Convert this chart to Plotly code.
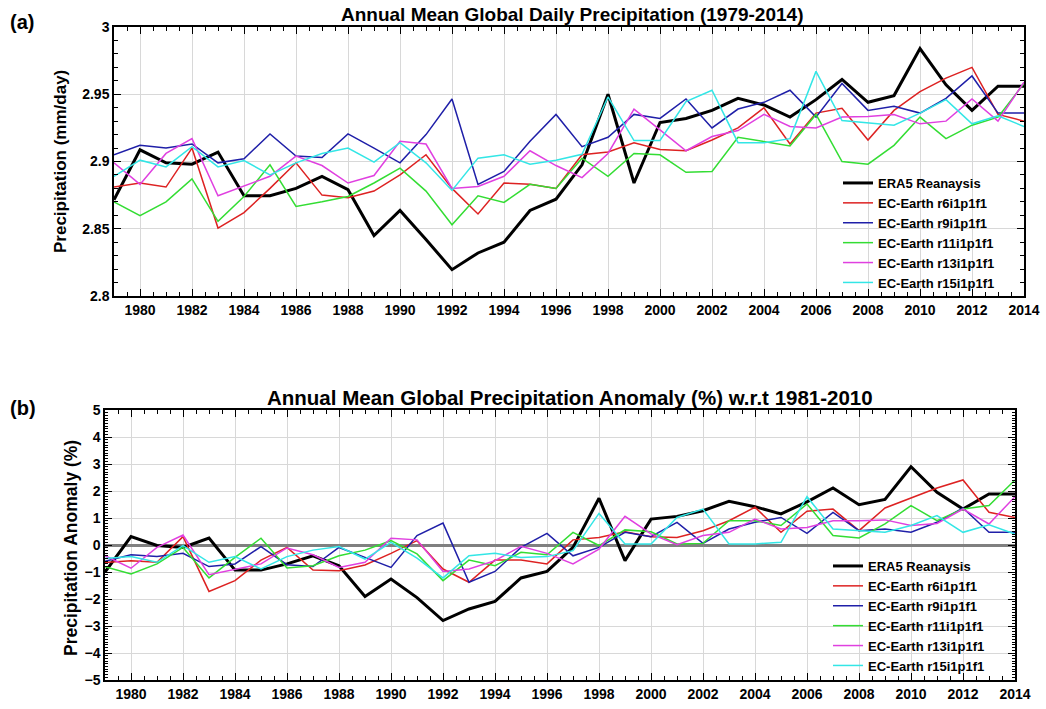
import plotly.graph_objects as go

years = list(range(1979, 2015))

# Panel (a): annual mean global daily precipitation (mm/day)
era5_a = [2.8715, 2.9087, 2.899, 2.898, 2.907, 2.8745, 2.8745, 2.880, 2.889, 2.879, 2.845, 2.8636,
          2.842, 2.8196, 2.832, 2.840, 2.8636, 2.872, 2.8975, 2.950, 2.884, 2.929, 2.932, 2.938,
          2.947, 2.942, 2.933, 2.946, 2.961, 2.944, 2.949, 2.984, 2.957, 2.938, 2.956, 2.956]
r6_a = [2.881, 2.884, 2.881, 2.910, 2.8505, 2.862, 2.880, 2.899, 2.875, 2.873, 2.878, 2.890,
        2.905, 2.880, 2.861, 2.884, 2.883, 2.880, 2.905, 2.907, 2.914, 2.909, 2.908, 2.916,
        2.925, 2.940, 2.913, 2.936, 2.9396, 2.916, 2.938, 2.952, 2.962, 2.970, 2.935, 2.930]
r9_a = [2.905, 2.912, 2.910, 2.913, 2.899, 2.902, 2.9205, 2.904, 2.903, 2.9205, 2.910, 2.899,
        2.920, 2.9465, 2.883, 2.8926, 2.915, 2.935, 2.911, 2.918, 2.935, 2.932, 2.9465, 2.925,
        2.939, 2.944, 2.953, 2.933, 2.958, 2.938, 2.941, 2.936, 2.947, 2.9636, 2.936, 2.936]
r11_a = [2.870, 2.8597, 2.870, 2.887, 2.8555, 2.874, 2.8975, 2.8666, 2.870, 2.874, 2.884, 2.895,
         2.878, 2.853, 2.8745, 2.8696, 2.883, 2.880, 2.9025, 2.889, 2.906, 2.905, 2.892, 2.8926,
         2.918, 2.915, 2.9116, 2.935, 2.900, 2.898, 2.912, 2.933, 2.917, 2.927, 2.933, 2.958]
r13_a = [2.899, 2.883, 2.906, 2.917, 2.8745, 2.882, 2.889, 2.904, 2.897, 2.884, 2.8896, 2.915,
         2.913, 2.880, 2.8814, 2.889, 2.908, 2.897, 2.888, 2.906, 2.939, 2.9235, 2.908, 2.9186,
         2.923, 2.935, 2.926, 2.925, 2.933, 2.9334, 2.935, 2.928, 2.930, 2.9465, 2.930, 2.959]
r15_a = [2.889, 2.901, 2.896, 2.911, 2.896, 2.9007, 2.890, 2.899, 2.906, 2.910, 2.8995, 2.914,
         2.899, 2.8785, 2.9025, 2.905, 2.898, 2.901, 2.9054, 2.948, 2.9156, 2.9156, 2.9445, 2.953,
         2.914, 2.914, 2.917, 2.967, 2.9305, 2.929, 2.927, 2.936, 2.946, 2.928, 2.934, 2.926]

# Panel (b): precipitation anomaly (%) w.r.t. 1981-2010
era5_b = [-1.0, 0.31, -0.02, -0.09, 0.26, -0.93, -0.93, -0.70, -0.40, -0.77, -1.91, -1.26,
          -1.95, -2.80, -2.37, -2.09, -1.22, -0.98, -0.09, 1.73, -0.58, 0.96, 1.06, 1.27,
          1.62, 1.42, 1.15, 1.60, 2.11, 1.49, 1.69, 2.90, 1.95, 1.33, 1.89, 1.89]
r6_b = [-0.65, -0.58, -0.64, 0.31, -1.72, -1.32, -0.56, -0.09, -0.93, -0.95, -0.74, -0.31,
        0.16, -0.89, -1.38, -0.56, -0.56, -0.70, 0.19, 0.28, 0.49, 0.31, 0.28, 0.53,
        0.90, 1.40, 0.47, 1.25, 1.33, 0.53, 1.37, 1.74, 2.11, 2.41, 1.21, 1.02]
r9_b = [-0.6, -0.36, -0.43, -0.31, -0.80, -0.70, -0.06, -0.73, -0.80, -0.09, -0.46, -0.83,
        0.35, 0.81, -1.38, -0.98, -0.09, 0.43, -0.40, -0.09, 0.47, 0.31, 0.84, 0.06,
        0.59, 0.84, 1.02, 0.43, 1.21, 0.53, 0.59, 0.47, 0.84, 1.37, 0.47, 0.47]
r11_b = [-0.8, -1.07, -0.70, -0.09, -1.22, -0.46, 0.25, -0.85, -0.77, -0.40, -0.19, 0.16,
         -0.33, -1.32, -0.56, -0.77, -0.27, -0.36, 0.47, -0.02, 0.56, 0.49, 0.04, 0.06,
         0.90, 0.90, 0.72, 1.52, 0.35, 0.26, 0.78, 1.46, 0.90, 1.33, 1.46, 2.41]
r13_b = [-0.4, -0.86, -0.09, 0.37, -1.10, -0.89, -0.70, -0.11, -0.36, -0.83, -0.64, 0.25,
         0.19, -0.98, -0.89, -0.58, -0.05, -0.31, -0.70, -0.15, 1.06, 0.41, 0.01, 0.35,
         0.47, 0.96, 0.59, 0.65, 0.90, 0.90, 0.93, 0.72, 0.80, 1.33, 0.78, 1.79]
r15_b = [-0.5, -0.43, -0.64, -0.02, -0.64, -0.43, -0.89, -0.43, -0.19, -0.06, -0.52, 0.10,
         -0.49, -1.22, -0.40, -0.31, -0.46, -0.43, -0.21, 1.17, 0.04, 0.04, 1.02, 1.33,
         0.04, 0.04, 0.10, 1.79, 0.59, 0.53, 0.47, 0.72, 1.09, 0.47, 0.75, 0.41]

names = ["ERA5 Reanaysis", "EC-Earth r6i1p1f1", "EC-Earth r9i1p1f1",
         "EC-Earth r11i1p1f1", "EC-Earth r13i1p1f1", "EC-Earth r15i1p1f1"]
colors = ["#000000", "#DD2222", "#1F1FA8", "#33DD33", "#E040E0", "#33E6E6"]
widths = [3, 1.5, 1.5, 1.5, 1.5, 1.5]
series_a = [era5_a, r6_a, r9_a, r11_a, r13_a, r15_a]
series_b = [era5_b, r6_b, r9_b, r11_b, r13_b, r15_b]

xticks = list(range(1980, 2015, 2))
FONT = "Liberation Sans, Arial, sans-serif"

# The page's body margin is removed by the post script, so the figure fills the window.
W, H = 1046, 709


def px(x):
    return x / W


def py(y):
    return 1 - y / H


fig = go.Figure()
for n, c, w, ya in zip(names, colors, widths, series_a):
    fig.add_trace(go.Scatter(x=years, y=ya, mode="lines", name=n,
                             line=dict(color=c, width=w), xaxis="x", yaxis="y",
                             legend="legend"))
for n, c, w, yb in zip(names, colors, widths, series_b):
    fig.add_trace(go.Scatter(x=years, y=yb, mode="lines", name=n,
                             line=dict(color=c, width=w), xaxis="x2", yaxis="y2",
                             legend="legend2"))

tickfont = dict(family=FONT, size=14, color="black", weight="bold")


def xax(domain, anchor):
    return dict(domain=domain, anchor=anchor, range=[1979, 2014], tickvals=xticks,
                ticks="inside", ticklen=7, tickwidth=1, tickcolor="black",
                mirror="allticks", showline=True, linecolor="black", linewidth=1.5,
                showgrid=True, gridcolor="#d8d8d8", gridwidth=1, zeroline=False,
                tickfont=tickfont, automargin=False, ticklabeloverflow="allow",
                minor=dict(tick0=1979, dtick=0.5, ticks="inside", ticklen=4,
                           tickcolor="black", showgrid=False))


legfont = dict(family=FONT, size=13, color="black", weight="bold")

fig.update_layout(
    width=W, height=H,
    margin=dict(l=0, r=0, t=0, b=0),
    paper_bgcolor="white", plot_bgcolor="white",
    font=dict(family=FONT, color="black"),
    xaxis=xax([px(114), px(1024)], "y"),
    xaxis2=xax([px(105), px(1015)], "y2"),
    yaxis=dict(domain=[py(296), py(27)], anchor="x", range=[2.8, 3.0],
               tickvals=[2.8, 2.85, 2.9, 2.95, 3.0],
               ticktext=["2.8", "2.85", "2.9", "2.95", "3"],
               ticks="inside", ticklen=7, tickcolor="black", mirror="allticks",
               showline=True, linecolor="black", linewidth=1.5,
               showgrid=True, gridcolor="#d8d8d8", zeroline=False,
               tickfont=tickfont, automargin=False, ticklabeloverflow="allow",
               minor=dict(dtick=0.01, ticks="inside", ticklen=4,
                          tickcolor="black", showgrid=False)),
    yaxis2=dict(domain=[py(680), py(410)], anchor="x2", range=[-5, 5],
                tickvals=list(range(-5, 6)),
                ticks="inside", ticklen=7, tickcolor="black", mirror="allticks",
                showline=True, linecolor="black", linewidth=1.5,
                showgrid=True, gridcolor="#d8d8d8", zeroline=True,
                zerolinecolor="#808080", zerolinewidth=3,
                tickfont=tickfont, automargin=False, ticklabeloverflow="allow",
                minor=dict(dtick=0.1, ticks="inside", ticklen=3,
                           tickcolor="black", showgrid=False)),
    legend=dict(x=px(838), y=py(168), xanchor="left", yanchor="top",
                bgcolor="rgba(255,255,255,0)", borderwidth=0, itemwidth=30,
                tracegroupgap=0, font=legfont),
    legend2=dict(x=px(828), y=py(551), xanchor="left", yanchor="top",
                 bgcolor="rgba(255,255,255,0)", borderwidth=0, itemwidth=30,
                 tracegroupgap=0, font=legfont),
    annotations=[
        dict(text="Annual Mean Global Daily Precipitation (1979-2014)", x=px(572), y=py(15),
             xref="paper", yref="paper", showarrow=False, xanchor="center", yanchor="middle",
             font=dict(family=FONT, size=19, color="black", weight="bold")),
        dict(text="Annual Mean Global Precipitation Anomaly (%) w.r.t 1981-2010", x=px(570),
             y=py(397), xref="paper", yref="paper", showarrow=False, xanchor="center",
             yanchor="middle", font=dict(family=FONT, size=20.5, color="black", weight="bold")),
        dict(text="(a)", x=px(8), y=py(22), xref="paper", yref="paper", showarrow=False,
             xanchor="left", yanchor="middle",
             font=dict(family=FONT, size=20, color="black", weight="bold")),
        dict(text="(b)", x=px(8), y=py(408), xref="paper", yref="paper", showarrow=False,
             xanchor="left", yanchor="middle",
             font=dict(family=FONT, size=20, color="black", weight="bold")),
        dict(text="Precipitation (mm/day)", x=px(61), y=py(162), xref="paper",
             yref="paper", showarrow=False, textangle=-90, xanchor="center", yanchor="middle",
             font=dict(family=FONT, size=17, color="black", weight="bold")),
        dict(text="Precipitation Anomaly (%)", x=px(71), y=py(548), xref="paper",
             yref="paper", showarrow=False, textangle=-90, xanchor="center", yanchor="middle",
             font=dict(family=FONT, size=17.5, color="black", weight="bold")),
    ],
)

fig.write_html("out.html", config={"displayModeBar": False},
               post_script="document.body.style.margin='0';document.body.style.overflow='hidden';")
